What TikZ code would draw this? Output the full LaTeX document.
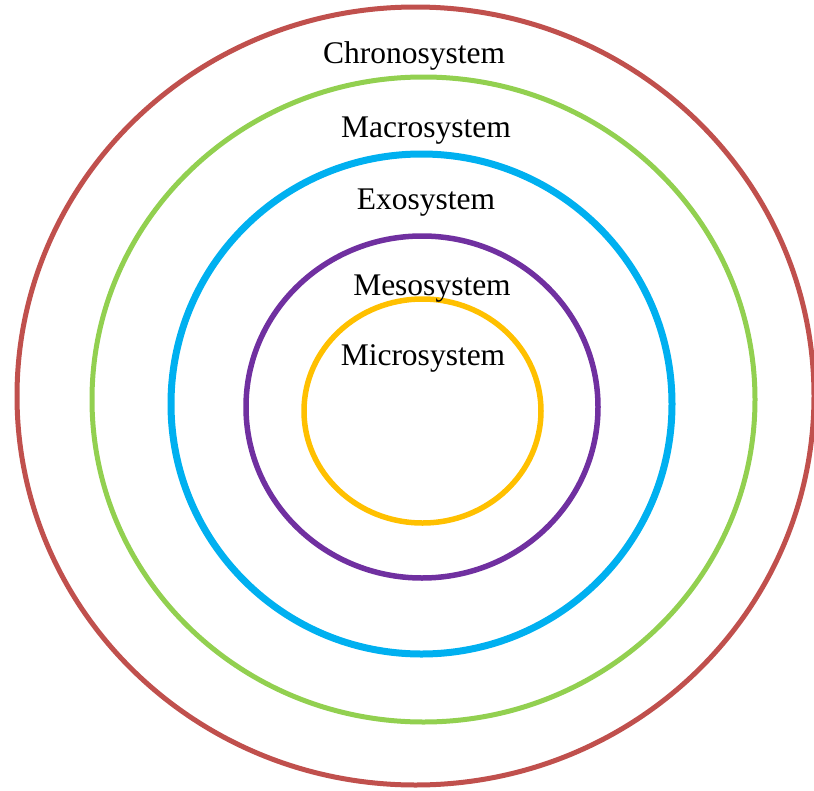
\documentclass[tikz,border=0pt]{standalone}
\usepackage{fontspec}
\setmainfont{Liberation Serif}
\definecolor{chronored}{HTML}{C0504D}
\definecolor{macrogreen}{HTML}{92D050}
\definecolor{exoblue}{HTML}{00B0F0}
\definecolor{mesopurple}{HTML}{7030A0}
\definecolor{microyellow}{HTML}{FFC000}
\begin{document}
\begin{tikzpicture}[x=1pt,y=-1pt, layer/.style={anchor=base, inner sep=0pt, font=\fontsize{31.5}{38}\selectfont}]
\useasboundingbox (0,0) rectangle (814,790);

%rings
\draw [chronored, line width=5pt] (415.5,396) ellipse [x radius=398.5pt, y radius=389pt];
\draw [macrogreen, line width=5pt] (423.5,399.5) ellipse [x radius=331.5pt, y radius=322.5pt];
\draw [exoblue, line width=7pt] (421.5,404) ellipse [x radius=250.5pt, y radius=250pt];
\draw [mesopurple, line width=5.5pt] (422,407) ellipse [x radius=176pt, y radius=171pt];
\draw [microyellow, line width=5.5pt] (422.5,411) ellipse [x radius=118.5pt, y radius=112pt];

%labels
\node (chrono) at (414, 63) [layer] {Chronosystem};
\node (macro) at (426, 137) [layer] {Macrosystem};
\node (exo) at (426, 209) [layer] {Exosystem};
\node (meso) at (432, 295) [layer] {Mesosystem};
\node (micro) at (423, 365) [layer] {Microsystem};
\end{tikzpicture}
\end{document}
